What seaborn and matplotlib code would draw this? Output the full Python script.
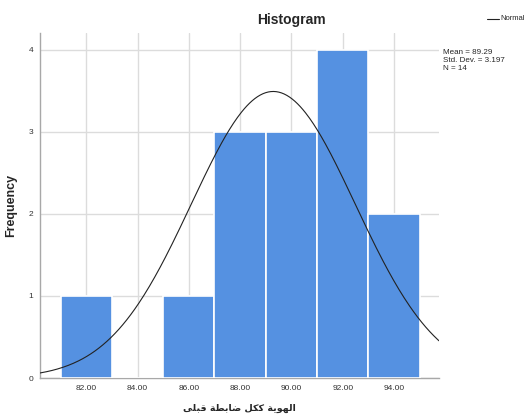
import numpy as np
import pandas as pd
import matplotlib
matplotlib.use("Agg")
import matplotlib.pyplot as plt
import seaborn as sns

# ---- data ----
bin_centers = [82, 84, 86, 88, 90, 92, 94]
frequencies = [1, 0, 1, 3, 3, 4, 2]
bin_edges = [81, 83, 85, 87, 89, 91, 93, 95]
x_ticks = [82, 84, 86, 88, 90, 92, 94]
x_tick_labels = ["82.00", "84.00", "86.00", "88.00", "90.00", "92.00", "94.00"]
y_ticks = [0, 1, 2, 3, 4]
mean_val = 89.29
std_val = 3.197
n_val = 14
bin_width = 2
stats_lines = ["Mean = 89.29", "Std. Dev. = 3.197", "N = 14"]

# Arabic label, shaped into presentation forms in visual order
# (logical text: "الهوية ككل ضابطة قبلى")
xlabel_text = ("\uFEF0\uFEE0\uFE92\uFED7 "
               "\uFE94\uFEC4\uFE91\uFE8E\uFEBF "
               "\uFEDE\uFEDC\uFEDB "
               "\uFE94\uFEF3\uFEEE\uFEEC\uFEDF\uFE8D")

sns.set_theme(style="white")
plt.rcParams['font.family'] = ['Liberation Sans', 'DejaVu Sans']

fig = plt.figure(figsize=(5.25, 4.19), dpi=100)
ax = fig.add_axes([40/525, 1-378/419, (439-40)/525, (378-33)/419])

df = pd.DataFrame({"value": bin_centers, "count": frequencies})
sns.histplot(data=df, x="value", weights="count", bins=bin_edges, ax=ax,
             color="#5591e1", alpha=1.0, edgecolor="white", linewidth=1.2,
             zorder=3)

xs = np.linspace(80.2, 95.75, 300)
ys = n_val * bin_width / (std_val * np.sqrt(2 * np.pi)) * np.exp(-0.5 * ((xs - mean_val) / std_val) ** 2)
sns.lineplot(x=xs, y=ys, ax=ax, color="#222222", linewidth=0.8, zorder=4)

ax.set_xlim(80.2, 95.75)
ax.set_ylim(0, 4.207)
ax.set_xticks(x_ticks)
ax.set_xticklabels(x_tick_labels)
ax.set_yticks(y_ticks)
ax.grid(True, color="#dcdcdc", linewidth=1.0, zorder=0)
ax.set_axisbelow(True)
for s in ["top", "right"]:
    ax.spines[s].set_visible(False)
for s in ["left", "bottom"]:
    ax.spines[s].set_color("#a8a8a8")
    ax.spines[s].set_linewidth(1.0)
ax.tick_params(axis="both", labelsize=6, colors="#333333", length=0, pad=5)

ax.set_ylabel("Frequency", fontsize=9, fontweight="bold")
ax.yaxis.set_label_coords((17 - 40) / 399, 0.5)
ax.set_xlabel(xlabel_text, fontsize=6.8, fontweight="bold",
              family=['DejaVu Sans'])
ax.xaxis.set_label_coords(0.5, (378 - 404) / 345)

fig.text(291/525, 1-20/419, "Histogram", ha="center", va="center",
         fontsize=10, fontweight="bold")

# legend-like "Normal"
fig.add_artist(plt.Line2D([487/525, 499/525], [1-19/419, 1-19/419],
                          color="#222222", linewidth=0.8))
fig.text(500/525, 1-19/419, "Normal", ha="left", va="center", fontsize=5.5)

for i, line in enumerate(stats_lines):
    fig.text(443/525, 1-(53 + 8*i)/419, line, ha="left", va="center",
             fontsize=5.8)

fig.savefig("out.png", dpi=100)
